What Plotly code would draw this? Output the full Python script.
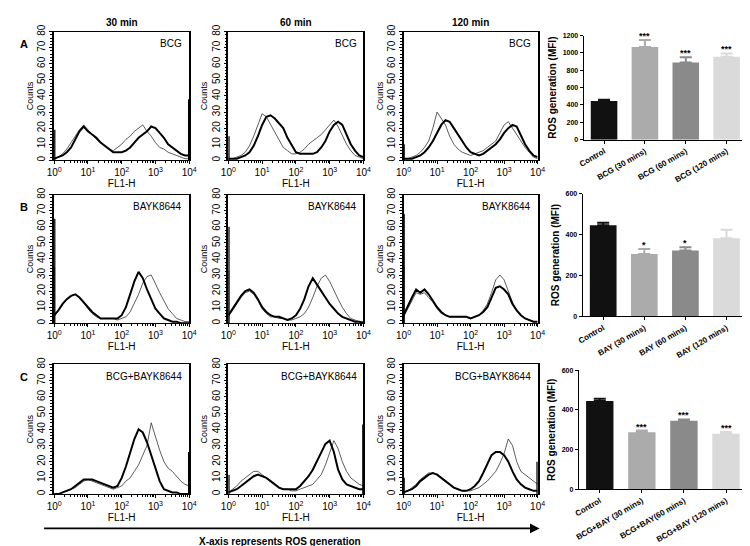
import plotly.graph_objects as go

W, H = 750, 546

# ---------------- data ----------------
BIN_DECADES = [i / 8 for i in range(33)]          # log10(FL1-H) bin positions
TIMES = ["30 min", "60 min", "120 min"]
ROW_LETTERS = ["A", "B", "C"]
TREATMENTS = ["BCG", "BAYK8644", "BCG+BAYK8644"]

# thick line = treated, thin line = control (counts per bin)
A30_THICK = [1, 2, 3, 5, 8, 13, 18, 21, 18, 16, 14, 11, 9, 7, 5, 5, 5, 6, 8, 11, 14, 16, 18, 21, 20, 17, 14, 10, 8, 6, 4, 3, 3]
A30_THIN = [1, 2, 4, 7, 11, 15, 19, 22, 19, 16, 13, 11, 9, 7, 6, 8, 10, 13, 15, 18, 20, 22, 18, 15, 11, 8, 7, 5, 4, 3, 2, 1, 1]
A60_THICK = [1, 1, 1, 2, 3, 5, 9, 15, 22, 27, 28, 26, 23, 20, 14, 9, 5, 4, 4, 4, 4, 5, 8, 12, 18, 22, 24, 22, 16, 10, 6, 3, 2]
A60_THIN = [1, 1, 2, 3, 5, 9, 15, 22, 29, 27, 22, 17, 12, 8, 6, 4, 4, 5, 7, 10, 12, 14, 16, 19, 22, 25, 21, 15, 10, 6, 3, 2, 1]
A120_THICK = [1, 1, 1, 2, 3, 5, 8, 12, 17, 22, 25, 24, 20, 16, 12, 8, 5, 4, 3, 4, 6, 8, 10, 13, 17, 20, 22, 21, 15, 10, 6, 3, 2]
A120_THIN = [1, 1, 2, 3, 5, 8, 12, 20, 30, 26, 22, 15, 10, 7, 5, 4, 3, 4, 5, 6, 8, 10, 12, 17, 22, 24, 20, 16, 12, 8, 5, 2, 1]

B30_THICK = [5, 8, 12, 15, 17, 18, 16, 13, 10, 7, 5, 3, 3, 3, 3, 3, 5, 10, 18, 26, 32, 28, 21, 15, 9, 6, 3, 2, 1, 1, 0, 0, 0]
B30_THIN = [4, 8, 12, 15, 17, 18, 16, 13, 9, 6, 4, 3, 3, 3, 3, 2, 3, 4, 7, 12, 18, 25, 29, 30, 24, 19, 14, 9, 6, 3, 2, 1, 1]
B60_THICK = [5, 9, 13, 17, 20, 21, 19, 15, 10, 7, 5, 4, 4, 3, 2, 3, 5, 9, 15, 23, 28, 24, 20, 16, 12, 9, 6, 4, 3, 2, 1, 1, 0]
B60_THIN = [4, 8, 12, 16, 19, 20, 18, 14, 9, 6, 4, 4, 3, 3, 2, 2, 3, 4, 6, 10, 16, 23, 28, 30, 26, 20, 15, 10, 6, 3, 2, 1, 1]
B120_THICK = [5, 10, 16, 21, 19, 21, 18, 14, 10, 7, 5, 4, 4, 4, 4, 4, 3, 4, 5, 7, 10, 16, 22, 23, 21, 18, 12, 8, 5, 3, 2, 1, 1]
B120_THIN = [4, 9, 15, 19, 18, 19, 16, 13, 9, 6, 5, 4, 4, 4, 4, 4, 3, 4, 5, 8, 12, 19, 27, 30, 27, 20, 13, 8, 5, 3, 2, 1, 1]

C30_THICK = [0, 0, 1, 2, 3, 5, 7, 9, 9, 9, 8, 7, 6, 5, 4, 5, 10, 17, 25, 34, 40, 38, 32, 24, 15, 8, 3, 2, 1, 1, 0, 0, 0]
C30_THIN = [0, 0, 1, 2, 3, 4, 6, 8, 9, 8, 7, 6, 5, 4, 3, 4, 5, 8, 10, 14, 18, 24, 30, 44, 35, 27, 20, 16, 14, 11, 8, 6, 5]
C60_THICK = [1, 2, 3, 5, 7, 9, 11, 12, 11, 10, 8, 6, 4, 3, 3, 3, 3, 5, 8, 11, 15, 20, 25, 31, 33, 26, 15, 9, 6, 5, 4, 3, 3]
C60_THIN = [1, 3, 5, 8, 10, 12, 14, 14, 12, 10, 8, 6, 4, 3, 3, 2, 2, 3, 4, 5, 6, 9, 12, 18, 25, 33, 28, 20, 14, 10, 8, 6, 5]
C120_THICK = [1, 2, 3, 5, 8, 10, 12, 13, 12, 10, 8, 6, 4, 3, 2, 2, 3, 5, 8, 13, 18, 24, 26, 26, 24, 20, 14, 9, 6, 4, 3, 2, 2]
C120_THIN = [1, 2, 4, 6, 9, 11, 13, 13, 12, 10, 8, 6, 4, 3, 2, 2, 2, 3, 4, 6, 8, 11, 14, 19, 25, 34, 30, 20, 14, 12, 10, 8, 6]

HIST_THICK = [[A30_THICK, A60_THICK, A120_THICK],
              [B30_THICK, B60_THICK, B120_THICK],
              [C30_THICK, C60_THICK, C120_THICK]]
HIST_THIN = [[A30_THIN, A60_THIN, A120_THIN],
             [B30_THIN, B60_THIN, B120_THIN],
             [C30_THIN, C60_THIN, C120_THIN]]

# off-scale events piled in the first / last channel
LEFT_EDGE_THICK = [[19, 15, 10], [65, 60, 68], [0, 12, 10]]
LEFT_EDGE_THIN = [[0, 0, 0], [35, 33, 35], [0, 0, 0]]
RIGHT_EDGE_THICK = [[38, 0, 0], [0, 0, 0], [26, 43, 20]]

BAR_CATS_A = ["Control", "BCG (30 mins)", "BCG (60 mins)", "BCG (120 mins)"]
BAR_VALS_A = [445, 1070, 890, 955]
BAR_ERR_A = [15, 80, 60, 40]
BAR_SIG_A = ["", "***", "***", "***"]

BAR_CATS_B = ["Control", "BAY (30 mins)", "BAY (60 mins)", "BAY (120 mins)"]
BAR_VALS_B = [445, 305, 322, 382]
BAR_ERR_B = [13, 25, 16, 42]
BAR_SIG_B = ["", "*", "*", ""]

BAR_CATS_C = ["Control", "BCG+BAY (30 mins)", "BCG+BAY(60 mins)", "BCG+BAY (120 mins)"]
BAR_VALS_C = [445, 288, 345, 280]
BAR_ERR_C = [12, 8, 7, 9]
BAR_SIG_C = ["", "***", "***", "***"]

BAR_ROWS = [(BAR_CATS_A, BAR_VALS_A, BAR_ERR_A, BAR_SIG_A, 1200),
            (BAR_CATS_B, BAR_VALS_B, BAR_ERR_B, BAR_SIG_B, 600),
            (BAR_CATS_C, BAR_VALS_C, BAR_ERR_C, BAR_SIG_C, 600)]

# ---------------- layout geometry (pixels) ----------------
HIST_COLS_PX = [(39, 177), (217, 355), (396, 533)]
HIST_ROWS_PX = [(17, 148), (183, 314), (356, 488)]
BAR_X_PX = [(580, 747), (579, 747), (575, 747)]
BAR_Y_PX = [(21, 127), (182, 307), (362, 483)]
BAR_COLORS = ["#111111", "#ababab", "#8a8a8a", "#dadada"]
FONT = "Liberation Sans, Arial, sans-serif"


def xdom(a, b):
    return [a / W, b / W]


def ydom(top, bottom):
    return [1 - bottom / H, 1 - top / H]


fig = go.Figure()
layout = dict(width=W, height=H, margin=dict(l=0, r=0, t=0, b=0),
              paper_bgcolor="white", plot_bgcolor="white", showlegend=False,
              font=dict(family=FONT, color="black", size=9))
annotations = []

xs = [10 ** d for d in BIN_DECADES]
minor_vals = [m * 10 ** k for k in range(4) for m in range(2, 10)]

for r in range(3):
    for c in range(3):
        n = r * 3 + c + 1
        sx = "" if n == 1 else str(n)
        xa, ya = "x" + sx, "y" + sx
        layout["xaxis" + sx] = dict(
            domain=xdom(*HIST_COLS_PX[c]), anchor=ya, type="log", range=[0, 4],
            tickvals=[10 ** k for k in range(5)],
            ticktext=["10<sup>%d</sup>" % k for k in range(5)],
            ticks="outside", ticklen=3, tickwidth=1, tickcolor="black",
            minor=dict(tickvals=minor_vals, ticks="outside", ticklen=2, tickcolor="black"),
            showline=True, linecolor="black", linewidth=1, mirror=True,
            showgrid=False, zeroline=False, tickfont=dict(size=10),
            title=dict(text="FL1-H", font=dict(size=10), standoff=1))
        layout["yaxis" + sx] = dict(
            domain=ydom(*HIST_ROWS_PX[r]), anchor=xa, range=[0, 80], dtick=10,
            ticks="outside", ticklen=3, tickwidth=1, tickcolor="black",
            minor=dict(dtick=2, ticks="outside", ticklen=2, tickcolor="black"),
            tickangle=-90, showline=True, linecolor="black", linewidth=1.5, mirror=True,
            showgrid=False, zeroline=False, tickfont=dict(size=10),
            title=dict(text="Counts", font=dict(size=9), standoff=1))
        fig.add_trace(go.Scatter(x=xs, y=HIST_THIN[r][c], mode="lines", xaxis=xa, yaxis=ya,
                                 line=dict(color="#333333", width=0.8)))
        fig.add_trace(go.Scatter(x=xs, y=HIST_THICK[r][c], mode="lines", xaxis=xa, yaxis=ya,
                                 line=dict(color="black", width=2)))
        x_lo, x_hi = xs[0], xs[-1]
        if LEFT_EDGE_THIN[r][c]:
            fig.add_trace(go.Scatter(x=[x_lo * 1.02, x_lo * 1.02], y=[0, LEFT_EDGE_THIN[r][c]],
                                     mode="lines", xaxis=xa, yaxis=ya,
                                     line=dict(color="#555555", width=1.2)))
        if LEFT_EDGE_THICK[r][c]:
            fig.add_trace(go.Scatter(x=[x_lo, x_lo], y=[0, LEFT_EDGE_THICK[r][c]],
                                     mode="lines", xaxis=xa, yaxis=ya,
                                     line=dict(color="black", width=2.5)))
        if RIGHT_EDGE_THICK[r][c]:
            fig.add_trace(go.Scatter(x=[x_hi, x_hi], y=[0, RIGHT_EDGE_THICK[r][c]],
                                     mode="lines", xaxis=xa, yaxis=ya,
                                     line=dict(color="black", width=2.5)))
        # treatment label
        annotations.append(dict(text=TREATMENTS[r], xref="paper", yref="paper",
                                x=(HIST_COLS_PX[c][1] - 5) / W,
                                y=1 - (HIST_ROWS_PX[r][0] + 12) / H,
                                xanchor="right", yanchor="middle", showarrow=False,
                                font=dict(size=10)))

# column titles and row letters
for c in range(3):
    x0, x1 = HIST_COLS_PX[c]
    annotations.append(dict(text="<b>%s</b>" % TIMES[c], xref="paper", yref="paper",
                            x=(x0 + x1) / 2 / W, y=1 - 8 / H, xanchor="center",
                            yanchor="middle", showarrow=False, font=dict(size=10)))
for r in range(3):
    annotations.append(dict(text="<b>%s</b>" % ROW_LETTERS[r], xref="paper", yref="paper",
                            x=8 / W, y=1 - (HIST_ROWS_PX[r][0] + 13) / H, xanchor="center",
                            yanchor="middle", showarrow=False, font=dict(size=11)))

# bar charts
for r, (cats, vals, errs, sigs, ymax) in enumerate(BAR_ROWS):
    n = 10 + r
    xa, ya = "x%d" % n, "y%d" % n
    layout["xaxis%d" % n] = dict(
        domain=xdom(*BAR_X_PX[r]), anchor=ya, type="category", range=[-0.5, 3.5],
        showline=True, linecolor="black", linewidth=1, ticks="outside", ticklen=3,
        tickcolor="black", tickangle=-30, showgrid=False,
        tickfont=dict(size=8, weight="bold"))
    layout["yaxis%d" % n] = dict(
        domain=ydom(*BAR_Y_PX[r]), anchor=xa, range=[0, ymax], dtick=200,
        showline=True, linecolor="black", linewidth=1, ticks="outside", ticklen=3,
        tickcolor="black", showgrid=False, zeroline=False,
        tickfont=dict(size=7, weight="bold"),
        title=dict(text="ROS generation (MFI)", font=dict(size=10, weight="bold"), standoff=4))
    for i in range(4):
        fig.add_trace(go.Bar(x=[cats[i]], y=[vals[i]], xaxis=xa, yaxis=ya, width=0.65,
                             marker=dict(color=BAR_COLORS[i], line=dict(width=0)),
                             error_y=dict(type="data", array=[errs[i]], arrayminus=[0],
                                          symmetric=False, color=BAR_COLORS[i],
                                          thickness=2, width=6)))
        if sigs[i]:
            annotations.append(dict(text="<b>%s</b>" % sigs[i], xref=xa, yref=ya,
                                    x=cats[i], y=vals[i] + errs[i], yanchor="bottom",
                                    xanchor="center", showarrow=False, yshift=-3,
                                    font=dict(size=9)))

# arrow along the bottom
annotations.append(dict(xref="paper", yref="paper", x=535 / W, y=1 - 523 / H,
                        ax=-(535 - 38), ay=0, axref="pixel", ayref="pixel",
                        showarrow=True, arrowhead=2, arrowsize=1.2, arrowwidth=1.6,
                        arrowcolor="black", text=""))
annotations.append(dict(text="<b>X-axis represents ROS generation</b>", xref="paper",
                        yref="paper", x=270 / W, y=1 - 536 / H, xanchor="center",
                        yanchor="middle", showarrow=False, font=dict(size=10)))

layout["annotations"] = annotations
fig.update_layout(**layout)
fig.write_html("out.html")
